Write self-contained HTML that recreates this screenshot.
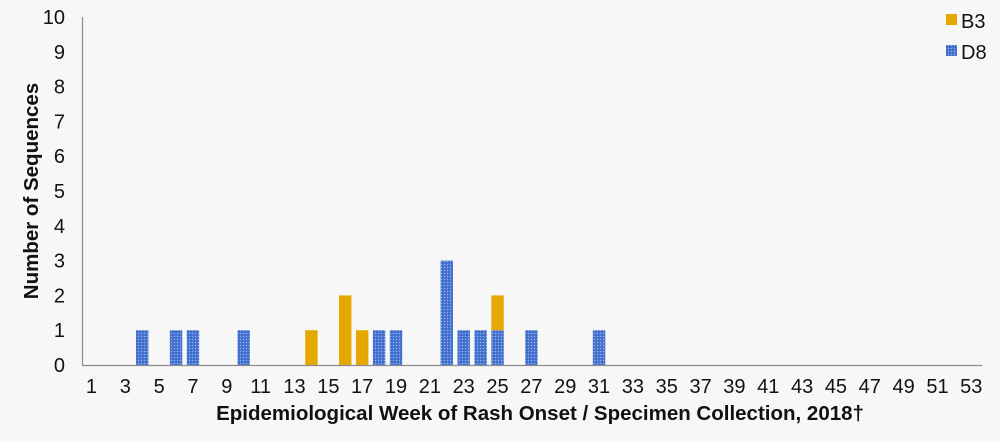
<!DOCTYPE html>
<html><head><meta charset="utf-8"><style>
body{margin:0;background:#f7f7f7;}
svg{display:block;font-family:"Liberation Sans",Arial,sans-serif;}
</style></head><body>
<svg width="1000" height="442" viewBox="0 0 1000 442" xmlns="http://www.w3.org/2000/svg">
<defs>
<pattern id="dots" width="3" height="3" patternUnits="userSpaceOnUse">
<rect width="3" height="3" fill="#4a78d4"/>
<rect x="0" y="0" width="1" height="1" fill="#9fb8ea"/>
<rect x="1.5" y="1.5" width="1" height="1" fill="#2d55b0"/>
</pattern>
</defs>
<rect width="1000" height="442" fill="#f7f7f7"/>
<g id="bars"></g>
<line x1="82.5" y1="17" x2="82.5" y2="365" stroke="#8c8c8c" stroke-width="1.2"/>
<line x1="82" y1="365.5" x2="982" y2="365.5" stroke="#8c8c8c" stroke-width="1.2"/>
<g font-size="20" fill="#111" text-anchor="end" id="yt"></g>
<g font-size="20" fill="#111" text-anchor="middle" id="xt"></g>
<text x="540" y="420" font-size="20.5" font-weight="bold" text-anchor="middle" fill="#111">Epidemiological Week of Rash Onset / Specimen Collection, 2018†</text>
<text transform="translate(38,191) rotate(-90)" font-size="20.5" font-weight="bold" text-anchor="middle" fill="#111">Number of Sequences</text>
<rect x="946" y="14" width="11" height="11" fill="#e5a800"/>
<text x="961" y="28" font-size="20" fill="#111">B3</text>
<rect x="946" y="45" width="11" height="11" fill="url(#dots)"/>
<text x="961" y="59" font-size="20" fill="#111">D8</text>
</svg>
<script>
var ns="http://www.w3.org/2000/svg",x0=83,w=16.92,y0=365,u=34.8;
function cx(k){return x0+(k-0.5)*w;}
var b=document.getElementById("bars");
function bar(k,lo,hi,f){var r=document.createElementNS(ns,"rect");r.setAttribute("x",cx(k)-6.2);r.setAttribute("width",12.4);r.setAttribute("y",y0-hi*u);r.setAttribute("height",(hi-lo)*u);r.setAttribute("fill",f);b.appendChild(r);}
var d8={4:1,6:1,7:1,10:1,18:1,19:1,22:3,23:1,24:1,25:1,27:1,31:1};
for(var k in d8)bar(+k,0,d8[k],"url(#dots)");
bar(14,0,1,"#e5a800");bar(16,0,2,"#e5a800");bar(17,0,1,"#e5a800");bar(25,1,2,"#e5a800");
var yt=document.getElementById("yt");
for(var i=0;i<=10;i++){var t=document.createElementNS(ns,"text");t.setAttribute("x",65);t.setAttribute("y",y0-i*u+7);t.textContent=i;yt.appendChild(t);}
var xt=document.getElementById("xt");
for(var k=1;k<=53;k+=2){var t=document.createElementNS(ns,"text");t.setAttribute("x",cx(k));t.setAttribute("y",393);t.textContent=k;xt.appendChild(t);}
</script>
</body></html>
